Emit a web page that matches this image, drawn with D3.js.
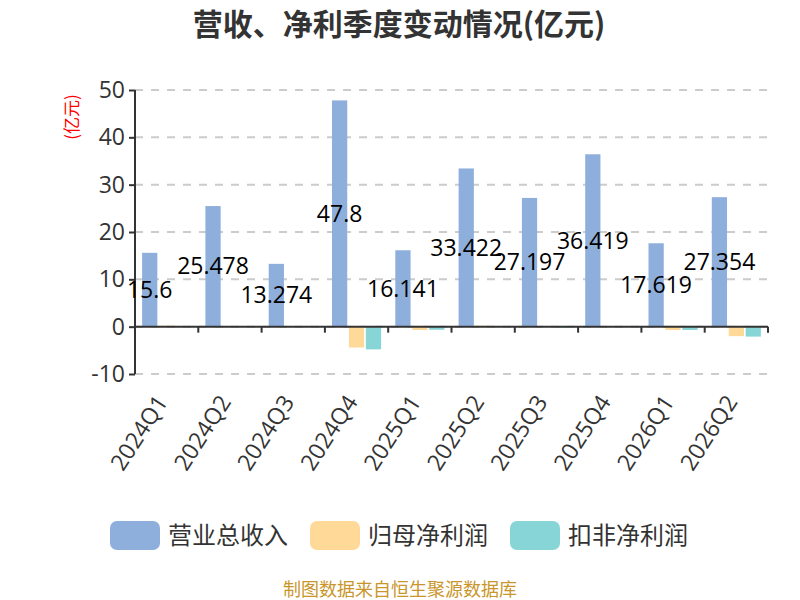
<!DOCTYPE html>
<html>
<head>
<meta charset="utf-8">
<script src="https://cdn.jsdelivr.net/npm/d3@7"></script>
<style>
  body { margin: 0; background: #fff; }
  svg { font-family: "Noto Sans CJK SC", "Noto Sans", sans-serif; }
</style>
</head>
<body>
<div id="chart"></div>
<script>
// data
const quarters = ['2024Q1', '2024Q2', '2024Q3', '2024Q4', '2025Q1',
                  '2025Q2', '2025Q3', '2025Q4', '2026Q1', '2026Q2'];
const seriesNames = ['营业总收入', '归母净利润', '扣非净利润'];
const revenue   = [15.6, 25.478, 13.274, 47.8, 16.141, 33.422, 27.197, 36.419, 17.619, 27.354];
const netProfit = [0.2, 0.15, 0.15, -4.4, -0.7, 0.2, 0.15, 0.05, -0.7, -2.0];
const deducted  = [0.05, 0.1, 0.15, -4.8, -0.65, 0.1, -0.2, 0.1, -0.7, -2.1];
const yTicks = [-10, 0, 10, 20, 30, 40, 50];
const colors = ['#8eaedc', '#fed998', '#88d5d8'];

const width = 800, height = 600;
const svg = d3.select('#chart').append('svg')
    .attr('width', width)
    .attr('height', height);

const allSeries = [revenue, netProfit, deducted];

// scales
const x = d3.scaleBand()
    .domain(quarters)
    .range([135, 768]);
const xInner = d3.scaleBand()
    .domain(seriesNames)
    .range([0, x.bandwidth()])
    .paddingInner(0.1)
    .paddingOuter(0.42);
const y = d3.scaleLinear()
    .domain([-10, 50])
    .range([374, 90]);

// title
svg.append('text')
    .attr('x', 399)
    .attr('y', 35)
    .attr('text-anchor', 'middle')
    .style('font-size', '30px')
    .style('font-weight', 'bold')
    .style('fill', '#333')
    .text('营收、净利季度变动情况(亿元)');

// grid lines
svg.append('g')
    .selectAll('line')
    .data(yTicks)
    .join('line')
    .attr('x1', 135)
    .attr('x2', 768)
    .attr('y1', d => y(d))
    .attr('y2', d => y(d))
    .style('stroke', '#ccc')
    .style('stroke-width', 2)
    .style('stroke-dasharray', '8 8');

// y axis
const yAxis = svg.append('g')
    .attr('transform', 'translate(135,0)')
    .call(d3.axisLeft(y).tickValues(yTicks).tickSize(6).tickPadding(4)
        .tickFormat(d => String(d)));
yAxis.select('.domain').style('stroke', '#333').style('stroke-width', 2)
    .attr('d', `M0,${y(-10)}V${y(50)}`);
yAxis.selectAll('.tick line').style('stroke', '#333').style('stroke-width', 2);
yAxis.selectAll('.tick text')
    .style('font-size', '23px')
    .style('fill', '#333')
    .style('font-family', '"Open Sans", "Noto Sans", sans-serif');

// unit label
svg.append('text')
    .attr('transform', 'translate(78,117) rotate(-90)')
    .attr('text-anchor', 'middle')
    .style('font-size', '17px')
    .style('fill', 'red')
    .text('(亿元)');

// bars
const groups = svg.append('g')
    .selectAll('g')
    .data(quarters)
    .join('g')
    .attr('transform', d => `translate(${x(d)},0)`);

groups.selectAll('rect')
    .data((q, i) => seriesNames.map((s, j) => ({ s, j, v: allSeries[j][i] })))
    .join('rect')
    .attr('x', d => xInner(d.s))
    .attr('width', xInner.bandwidth())
    .attr('y', d => Math.min(y(d.v), y(0)))
    .attr('height', d => Math.abs(y(d.v) - y(0)))
    .style('fill', d => colors[d.j]);

// x axis along zero
const xAxis = svg.append('g')
    .attr('transform', `translate(0,${y(0)})`);
xAxis.append('line')
    .attr('x1', 135).attr('x2', 768)
    .style('stroke', '#333').style('stroke-width', 2);
xAxis.selectAll('line.tick')
    .data(quarters.concat(['end']))
    .join('line')
    .classed('tick', true)
    .attr('x1', (d, i) => 135 + i * x.step())
    .attr('x2', (d, i) => 135 + i * x.step())
    .attr('y1', 0)
    .attr('y2', 6)
    .style('stroke', '#333').style('stroke-width', 2);

// category labels, rotated
svg.append('g')
    .selectAll('text')
    .data(quarters)
    .join('text')
    .attr('transform', d => `translate(${x(d) + x.bandwidth() / 2 + 2},${y(-10) + 28}) rotate(-57)`)
    .attr('text-anchor', 'end')
    .style('font-size', '23px')
    .style('fill', '#333')
    .style('font-family', '"Open Sans", "Noto Sans", sans-serif')
    .text(d => d);

// revenue value labels in middle of bars
svg.append('g')
    .selectAll('text')
    .data(revenue)
    .join('text')
    .attr('x', (d, i) => x(quarters[i]) + xInner(seriesNames[0]) + xInner.bandwidth() / 2)
    .attr('y', d => y(d / 2))
    .attr('dy', '0.35em')
    .attr('text-anchor', 'middle')
    .style('font-size', '23px')
    .style('fill', '#000')
    .style('font-family', '"Open Sans", "Noto Sans", sans-serif')
    .text(d => d);

// legend
const legend = svg.append('g')
    .selectAll('g')
    .data(seriesNames)
    .join('g')
    .attr('transform', (d, i) => `translate(${110 + i * 200},521)`);
legend.append('rect')
    .attr('width', 50)
    .attr('height', 29)
    .attr('rx', 7)
    .style('fill', (d, i) => colors[i]);
legend.append('text')
    .attr('x', 58)
    .attr('y', 15)
    .attr('dy', '0.35em')
    .style('font-size', '24px')
    .style('fill', '#333')
    .text(d => d);

// source note
svg.append('text')
    .attr('x', 400)
    .attr('y', 596)
    .attr('text-anchor', 'middle')
    .style('font-size', '18px')
    .style('fill', '#c9962b')
    .text('制图数据来自恒生聚源数据库');
</script>
</body>
</html>
